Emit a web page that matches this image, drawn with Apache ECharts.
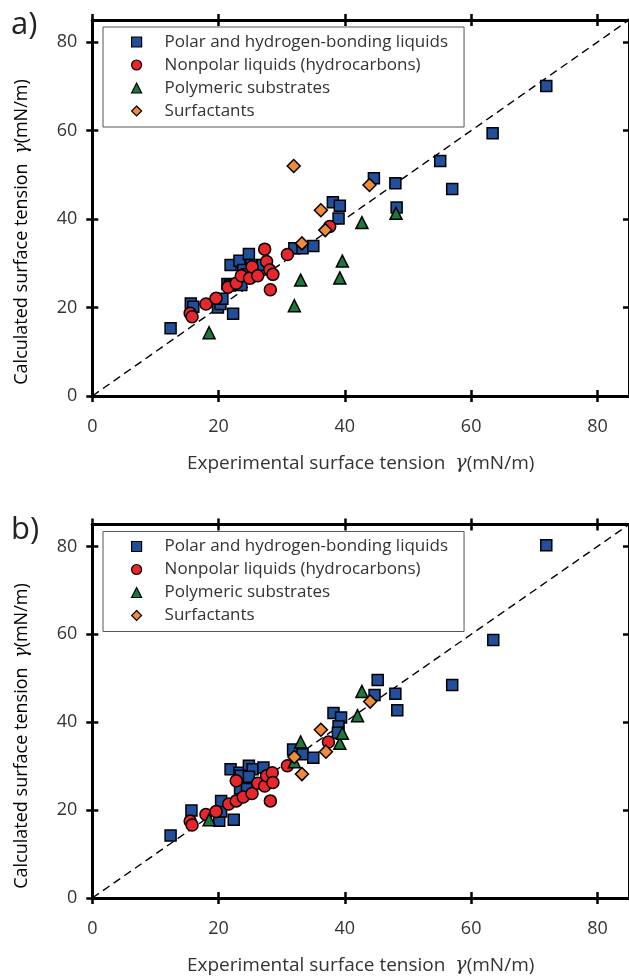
<!DOCTYPE html>
<html>
<head>
<meta charset="utf-8">
<script src="https://cdn.jsdelivr.net/npm/echarts@6/dist/echarts.min.js"></script>
<style>html,body{margin:0;padding:0;background:#fff;}#c{width:629px;height:976px;}</style>
</head>
<body>
<div id="c"></div>
<script>
// ---- data (x = experimental, y = calculated) ----
const seriesNames = ['Polar and hydrogen-bonding liquids', 'Nonpolar liquids (hydrocarbons)', 'Polymeric substrates', 'Surfactants'];
const tickValues = [0, 20, 40, 60, 80];

const polarA = [[12.4,15.3],[15.6,20.9],[16.0,20.2],[19.9,20.0],[20.3,20.8],[20.6,22.0],[22.3,18.6],[21.4,25.3],[21.8,25.0],[21.9,29.6],[23.3,30.6],[24.8,32.1],[25.2,29.6],[23.6,25.1],[23.9,28.5],[24.5,27.5],[27.0,29.6],[32.0,33.4],[33.3,33.4],[35.0,33.9],[38.1,43.8],[39.2,43.0],[39.0,40.1],[44.6,49.2],[48.0,48.1],[48.2,42.6],[55.1,53.1],[57.0,46.8],[63.4,59.4],[71.9,70.1]];
const nonpolarA = [[15.5,18.7],[15.8,17.9],[18.0,20.8],[19.6,22.1],[21.5,24.6],[22.8,25.5],[23.6,27.2],[24.9,26.6],[25.3,29.2],[26.2,27.2],[27.3,33.2],[27.6,30.4],[28.1,28.5],[28.6,27.5],[28.2,24.0],[30.9,32.0],[37.6,38.3]];
const polymerA = [[18.5,14.3],[32.0,20.4],[33.0,26.2],[39.2,26.7],[39.6,30.5],[42.7,39.2],[48.1,41.3]];
const surfA = [[31.9,52.0],[33.2,34.5],[36.2,42.0],[36.9,37.5],[43.9,47.7]];

const polarB = [[12.4,14.2],[15.7,19.9],[20.1,17.6],[20.4,19.7],[20.4,22.1],[22.4,17.8],[21.9,29.3],[23.3,28.5],[24.8,30.1],[25.4,29.3],[27.1,29.7],[23.5,27.8],[24.8,27.6],[23.4,24.9],[24.5,24.8],[31.8,33.8],[33.3,32.7],[35.0,31.9],[38.2,42.1],[39.4,41.1],[39.0,39.1],[38.9,37.6],[44.7,46.2],[45.2,49.6],[48.0,46.5],[48.3,42.7],[57.0,48.5],[63.5,58.7],[71.9,80.3]];
const nonpolarB = [[15.5,17.5],[15.8,16.6],[18.0,19.0],[19.6,19.7],[21.6,21.4],[22.8,22.1],[23.9,23.0],[25.3,23.8],[22.8,26.7],[26.2,26.1],[27.3,25.5],[27.6,27.8],[28.5,28.5],[28.6,26.3],[28.2,22.1],[30.9,30.1],[37.4,35.5]];
const polymerB = [[18.5,17.8],[32.0,31.0],[33.0,35.5],[39.2,35.2],[39.6,37.5],[42.0,41.5],[42.7,47.0]];
const surfB = [[32.0,32.1],[33.2,28.2],[36.2,38.3],[37.0,33.3],[44.0,44.7]];

const parityLine = [[0,0],[85,85]];
const axisMax = 85;

// ---- styling ----
const FONT = 'Open Sans';
const TXT = '#333';
const colors = ['#214f9b', '#e8262c', '#1b7a3b', '#f28a3d'];
const symbols = ['rect', 'circle', 'triangle', 'diamond'];
const sizes = [11, 12, 12, 13];

const panels = [
  {top: 20, height: 376, data: [polarA, nonpolarA, polymerA, surfA], legendTop: 27, tag: 'a)', yNameY: 232},
  {top: 524.5, height: 377, data: [polarB, nonpolarB, polymerB, surfB], legendTop: 531.5, tag: 'b)', yNameY: 736}
];

const xAxes = [], yAxes = [], grids = [], series = [], legends = [], graphics = [];
const lineW = 3, tickW = 2.5, tickL = 6;

const xRich = {
  t: {fontFamily: FONT, fontSize: 19, color: TXT},
  g: {fontFamily: 'DejaVu Serif', fontStyle: 'italic', fontSize: 19, color: TXT}
};
const yRich = {
  t: {fontFamily: FONT, fontSize: 18, color: TXT},
  g: {fontFamily: 'DejaVu Serif', fontStyle: 'italic', fontSize: 18, color: TXT}
};

panels.forEach((p, gi) => {
  grids.push({left: 92.3, top: p.top, width: 538, height: p.height, containLabel: false});
  const base = (pos, inside) => ({
    gridIndex: gi, type: 'value', min: 0, max: axisMax, position: pos,
    axisLine: {show: true, onZero: false, lineStyle: {color: '#000', width: lineW}},
    axisTick: {show: true, inside: inside, length: tickL, customValues: tickValues, lineStyle: {color: '#000', width: tickW}},
    axisLabel: {show: false},
    splitLine: {show: false}
  });
  const xi = xAxes.length;
  const xMain = base('bottom', false);
  xMain.axisLabel = {show: true, customValues: tickValues, fontFamily: FONT, fontSize: 18, color: TXT, margin: 22};
  xMain.name = '{t|Experimental surface tension  }{g|γ}{t|(mN/m)}';
  xMain.nameLocation = 'middle';
  xMain.nameGap = 58;
  xMain.nameTextStyle = {rich: xRich};
  xAxes.push(xMain, base('bottom', true), base('top', false), base('top', true));
  const yi = yAxes.length;
  const yMain = base('left', false);
  yMain.axisLabel = {show: true, customValues: tickValues, fontFamily: FONT, fontSize: 18, color: TXT, margin: 15};
  yAxes.push(yMain, base('left', true), base('right', false), base('right', true));

  series.push({
    type: 'line', name: 'parity', xAxisIndex: xi, yAxisIndex: yi, data: parityLine,
    symbol: 'none', silent: true, z: 1,
    lineStyle: {color: '#000', width: 1.4, type: [8, 5]}
  });
  p.data.forEach((d, si) => {
    series.push({
      type: 'scatter', name: seriesNames[si], xAxisIndex: xi, yAxisIndex: yi, data: d,
      symbol: symbols[si], symbolSize: sizes[si], z: 3 + si,
      itemStyle: {color: colors[si], borderColor: '#000', borderWidth: 1.5, opacity: 1}
    });
  });

  legends.push({
    orient: 'vertical', left: 103, top: p.legendTop,
    data: seriesNames, selectedMode: false,
    itemWidth: 10, itemHeight: 10, itemGap: 5,
    padding: [6, 16, 7, 28],
    borderColor: '#555', borderWidth: 1, backgroundColor: '#fff',
    itemStyle: {borderColor: '#000', borderWidth: 1.2},
    formatter: n => '{l|' + n + '}',
    textStyle: {rich: {l: {fontFamily: FONT, fontSize: 17, color: TXT, height: 18, lineHeight: 18, padding: [0, 0, 0, 18]}}}
  });

  graphics.push({
    type: 'text', left: 11, top: p.top - 10,
    style: {text: p.tag, fontFamily: FONT, fontSize: 31, fill: '#222'}
  });
  graphics.push({
    type: 'text', x: 22, y: p.yNameY, rotation: Math.PI / 2,
    style: {
      text: '{t|Calculated surface tension  }{g|γ}{t|(mN/m)}',
      rich: yRich, align: 'center', verticalAlign: 'middle'
    }
  });
});

const chart = echarts.init(document.getElementById('c'), null, {renderer: 'canvas'});
chart.setOption({
  animation: false,
  backgroundColor: '#fff',
  grid: grids,
  xAxis: xAxes,
  yAxis: yAxes,
  legend: legends,
  series: series,
  graphic: graphics
});
</script>
</body>
</html>
